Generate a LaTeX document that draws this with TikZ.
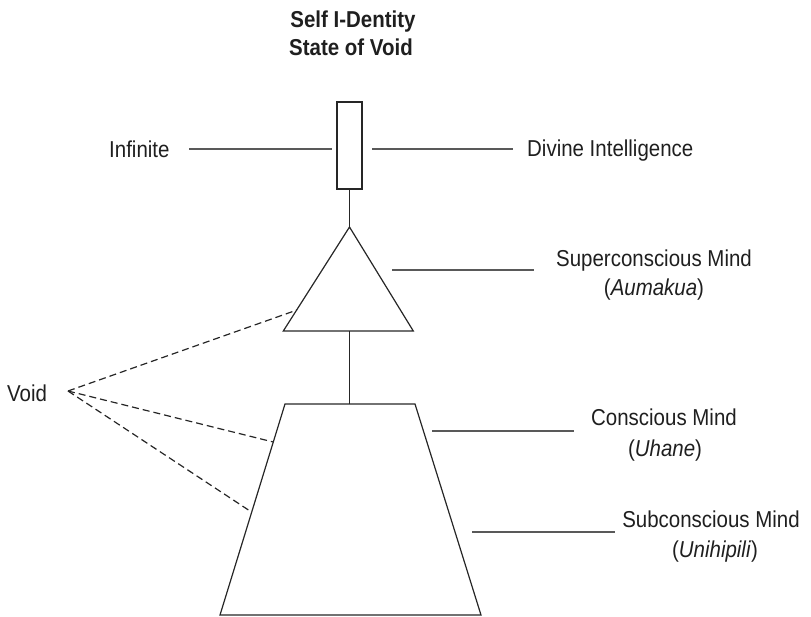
\documentclass[tikz,border=0pt]{standalone}
\usepackage{fontspec}
\setmainfont{Liberation Sans}[FakeStretch=0.89]
\begin{document}
\begin{tikzpicture}[x=1pt,y=-1pt,
  txt/.style={text=black!88, inner sep=0pt, font=\fontsize{23}{29}\selectfont},
  ttl/.style={text=black!88, inner sep=0pt, font=\fontsize{23}{28}\selectfont\bfseries},
  figline/.style={draw=black!85, line width=1.2pt},
  leader/.style={draw=black!65, line width=1.3pt},
  voidline/.style={draw=black!85, line width=1.2pt, dash pattern=on 7pt off 4pt}]
\useasboundingbox (0,0) rectangle (811,616);
% title
\node[ttl, anchor=base] (title1) at (353,27) {Self I-Dentity};
\node[ttl, anchor=base] (title2) at (351,55) {State of Void};
% rectangle
\node[figline, minimum width=25pt, minimum height=87pt, inner sep=0pt] (rect) at (349.5,145.5) {};
% triangle
\coordinate (apex) at (349.5,227);
\coordinate (tl) at (283.3,331);
\coordinate (tr) at (413.3,331);
\coordinate (tb) at (349.5,331);
\draw[figline, line join=miter] (apex) -- (tr) -- (tl) -- cycle;
\draw[figline] (rect.south) -- (apex);
% trapezoid
\coordinate (ztl) at (285,404);
\coordinate (ztr) at (415,404);
\coordinate (zbr) at (481,615);
\coordinate (zbl) at (220,615);
\coordinate (zt) at (349.5,404);
\draw[figline] (ztl) -- (ztr) -- (zbr) -- (zbl) -- cycle;
\draw[figline] (tb) -- (zt);
% labels
\node[txt, anchor=base west] (inf) at (109,157) {Infinite};
\node[txt, anchor=base west] (div) at (527,156) {Divine Intelligence};
\coordinate (infa) at (189,149); \coordinate (infb) at (332,149);
\coordinate (diva) at (372,149); \coordinate (divb) at (513,149);
\draw[leader] (infa) -- (infb);
\draw[leader] (diva) -- (divb);
\node[txt, anchor=base] (sup) at (654,266) {Superconscious Mind};
\node[txt, anchor=base] (supb) at (654,295) {(\textit{Aumakua})};
\coordinate (supa) at (392,270); \coordinate (supe) at (534,270);
\draw[leader] (supa) -- (supe);
\node[txt, anchor=base] (con) at (664,425) {Conscious Mind};
\node[txt, anchor=base] (conb) at (665,456) {(\textit{Uhane})};
\coordinate (cona) at (432,431); \coordinate (cone) at (574,431);
\draw[leader] (cona) -- (cone);
\node[txt, anchor=base] (sub) at (711,527) {Subconscious Mind};
\node[txt, anchor=base] (subb) at (715,557) {(\textit{Unihipili})};
\coordinate (suba) at (472,532); \coordinate (sube) at (615,532);
\draw[leader] (suba) -- (sube);
% void
\node[txt, anchor=base west] (void) at (7,401) {Void};
\coordinate (vp) at (68,391);
\coordinate (v1) at (297,310);
\coordinate (v2) at (273.3,442);
\coordinate (v3) at (251.5,512);
\draw[voidline] (vp) -- (v1);
\draw[voidline] (vp) -- (v2);
\draw[voidline] (vp) -- (v3);
\end{tikzpicture}
\end{document}
